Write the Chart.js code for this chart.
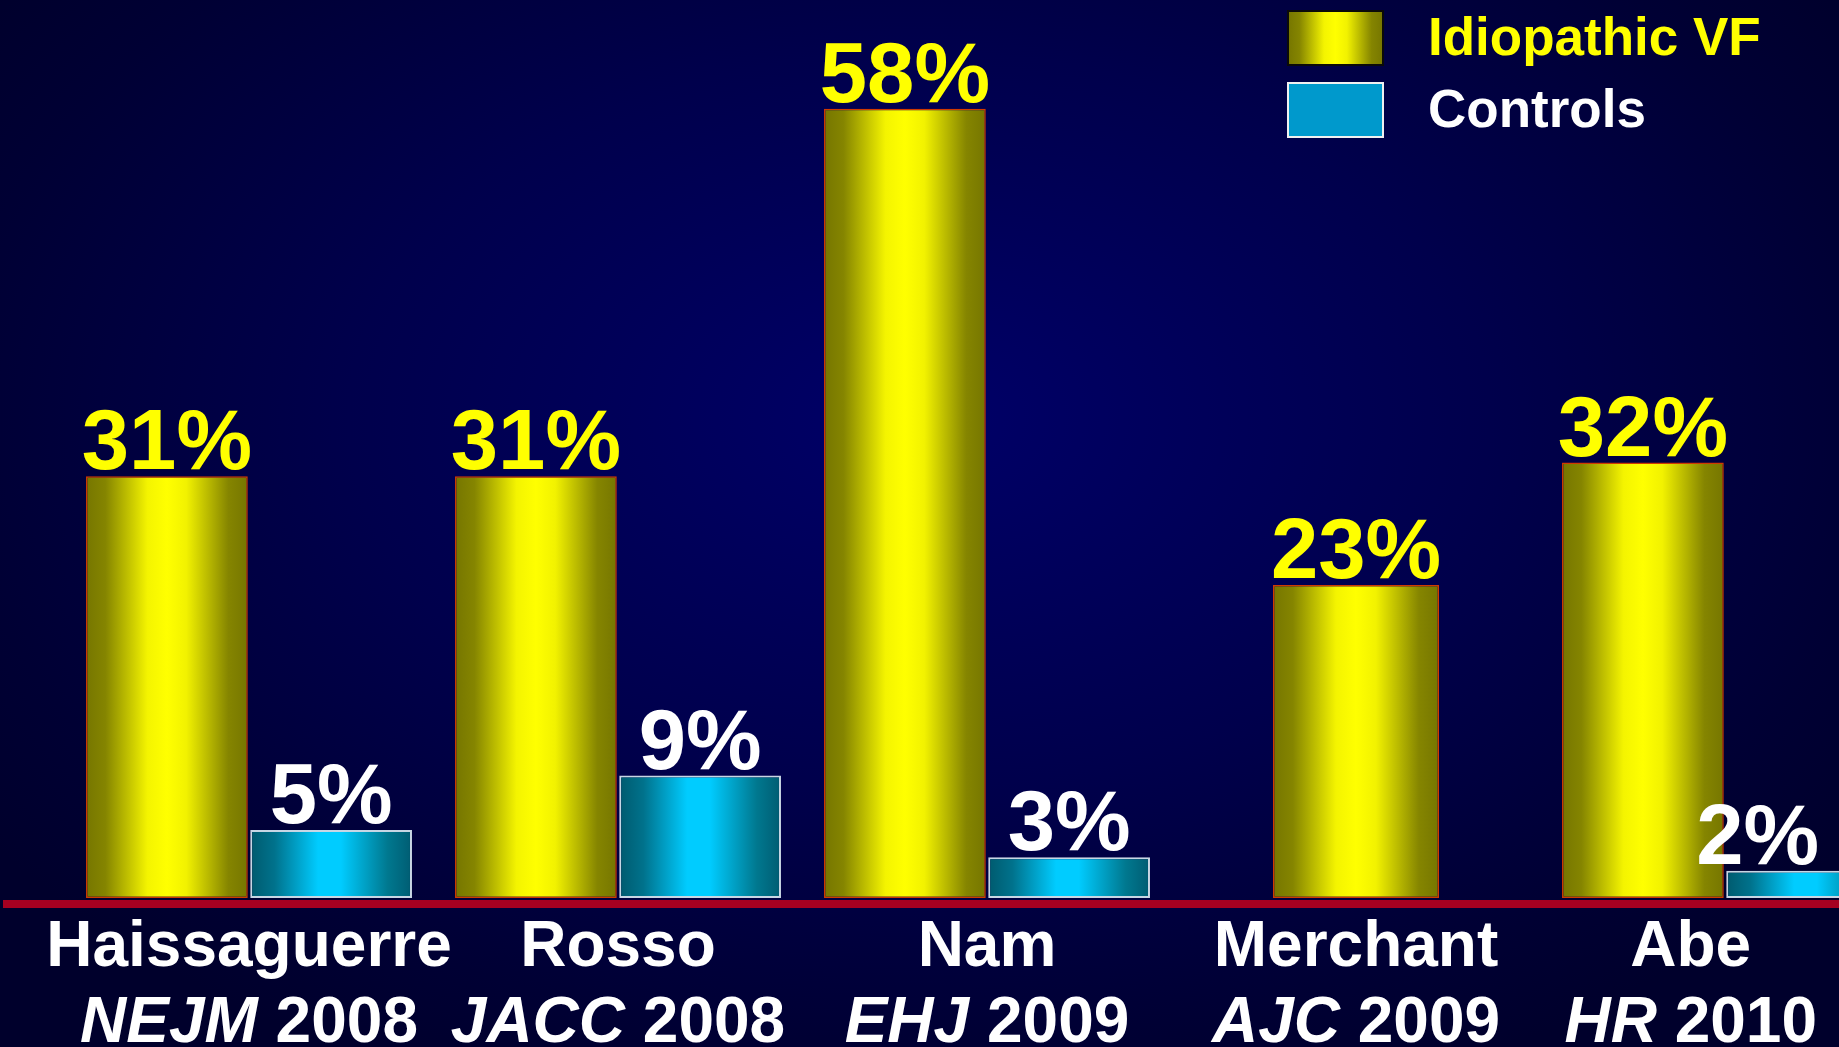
<!DOCTYPE html>
<html>
<head>
<meta charset="utf-8">
<script src="https://cdn.jsdelivr.net/npm/chart.js@4.4.1/dist/chart.umd.min.js"></script>
<style>
  html, body { margin: 0; padding: 0; overflow: hidden; }
  body {
    width: 1839px; height: 1047px;
    background: radial-gradient(ellipse 62% 70% at 50% 40%, #000068 0%, #00004c 50%, #000034 85%, #00002c 100%);
  }
  canvas { display: block; }
</style>
</head>
<body>
<canvas id="vfChart" width="1839" height="1047"></canvas>
<script>
// studies along the x axis
const authors = ['Haissaguerre', 'Rosso', 'Nam', 'Merchant', 'Abe'];
const journals = ['NEJM', 'JACC', 'EHJ', 'AJC', 'HR'];
const years = ['2008', '2008', '2009', '2009', '2010'];

// prevalence of early repolarization (%)
const idiopathicVF = [31, 31, 58, 23, 32];
const controls = [5, 9, 3, null, 2];

const seriesNames = ['Idiopathic VF', 'Controls'];
const valueColors = ['#ffff00', '#ffffff'];

const FONT = "'Liberation Sans', Arial, Helvetica, sans-serif";

// cylinder-like shading across each bar
const vfStops = [[0, '#767600'], [0.12, '#858500'], [0.38, '#f4f400'], [0.5, '#ffff00'], [0.62, '#f2f200'], [0.88, '#858500'], [1, '#767600']];
const ctrlStops = [[0, '#005a6e'], [0.15, '#00728c'], [0.42, '#00ccff'], [0.56, '#00ccff'], [0.85, '#00788f'], [1, '#005c72']];

function horizGradient(ctx, x0, x1, stops) {
  const g = ctx.createLinearGradient(x0, 0, x1, 0);
  stops.forEach(s => g.addColorStop(s[0], s[1]));
  return g;
}

function barFill(c, stops, fallback) {
  const el = c.element;
  if (!el || !isFinite(el.x) || !isFinite(el.width)) return fallback;
  return horizGradient(c.chart.ctx, el.x - el.width / 2, el.x + el.width / 2, stops);
}

// red floor line under the bars
const baseLine = {
  id: 'baseLine',
  afterDatasetsDraw(chart) {
    const ctx = chart.ctx;
    const y0 = chart.scales.y.getPixelForValue(0);
    ctx.save();
    ctx.fillStyle = '#a50021';
    ctx.fillRect(3, y0 + 2, chart.width - 3, 8);
    ctx.restore();
  }
};

// percentage above every bar
const valueLabels = {
  id: 'valueLabels',
  afterDatasetsDraw(chart) {
    const ctx = chart.ctx;
    ctx.save();
    ctx.font = `bold 85px ${FONT}`;
    ctx.textAlign = 'center';
    ctx.textBaseline = 'alphabetic';
    chart.data.datasets.forEach((ds, di) => {
      const meta = chart.getDatasetMeta(di);
      ctx.fillStyle = valueColors[di];
      meta.data.forEach((el, i) => {
        const v = ds.data[i];
        if (v == null) return;
        const txt = v + '%';
        const half = ctx.measureText(txt).width / 2;
        const x = Math.min(el.x, chart.width - 20 - half);
        ctx.fillText(txt, x, el.y - 7);
      });
    });
    ctx.restore();
  }
};

// two-line study labels: author, then italic journal + year
const studyLabels = {
  id: 'studyLabels',
  afterDraw(chart) {
    const ctx = chart.ctx;
    const xs = chart.scales.x;
    const bottom = chart.chartArea.bottom;
    const plain = `bold 64px ${FONT}`;
    const ital = `italic bold 64px ${FONT}`;
    ctx.save();
    ctx.fillStyle = '#ffffff';
    ctx.textBaseline = 'alphabetic';
    authors.forEach((name, i) => {
      ctx.font = plain;
      const wName = ctx.measureText(name).width;
      const wYear = ctx.measureText(' ' + years[i]).width;
      ctx.font = ital;
      const wJour = ctx.measureText(journals[i]).width;
      const w2 = wJour + wYear;
      const half = Math.max(wName, w2) / 2;
      let cx = xs.getPixelForValue(i);
      cx = Math.max(12 + half, Math.min(cx, chart.width - 22 - half));

      ctx.font = plain;
      ctx.textAlign = 'center';
      ctx.fillText(name, cx, bottom + 68);

      ctx.textAlign = 'left';
      let x = cx - w2 / 2;
      ctx.font = ital;
      ctx.fillText(journals[i], x, bottom + 144);
      ctx.font = plain;
      ctx.fillText(' ' + years[i], x + wJour, bottom + 144);
    });
    ctx.restore();
  }
};

// legend in the top right corner
const cornerLegend = {
  id: 'cornerLegend',
  afterDraw(chart) {
    const ctx = chart.ctx;
    const sx = 1288, sw = 95, sh = 54;
    const rows = [11, 83];
    ctx.save();
    // yellow swatch
    ctx.fillStyle = horizGradient(ctx, sx, sx + sw, vfStops);
    ctx.fillRect(sx, rows[0], sw, sh);
    ctx.strokeStyle = '#0a0a0a';
    ctx.lineWidth = 2;
    ctx.strokeRect(sx, rows[0], sw, sh);
    // blue swatch
    ctx.fillStyle = '#0099cc';
    ctx.fillRect(sx, rows[1], sw, sh);
    ctx.strokeStyle = '#f0f0f0';
    ctx.strokeRect(sx, rows[1], sw, sh);

    ctx.font = `bold 53px ${FONT}`;
    ctx.textAlign = 'left';
    ctx.textBaseline = 'alphabetic';
    seriesNames.forEach((name, i) => {
      ctx.fillStyle = valueColors[i];
      ctx.fillText(name, 1428, rows[i] + 44);
    });
    ctx.restore();
  }
};

const chart = new Chart(document.getElementById('vfChart'), {
  type: 'bar',
  data: {
    labels: authors,
    datasets: [
      {
        label: seriesNames[0],
        data: idiopathicVF,
        backgroundColor: c => barFill(c, vfStops, '#e0e000'),
        borderColor: '#d03a00',
        borderWidth: 1.5,
        borderSkipped: false,
        categoryPercentage: 0.89,
        barPercentage: 0.985,
        maxBarThickness: 166,
        skipNull: true,
        clip: false
      },
      {
        label: seriesNames[1],
        data: controls,
        backgroundColor: c => barFill(c, ctrlStops, '#00a8d8'),
        borderColor: '#c8d6e4',
        borderWidth: 2,
        borderSkipped: false,
        categoryPercentage: 0.89,
        barPercentage: 0.985,
        maxBarThickness: 166,
        skipNull: true,
        clip: false
      }
    ]
  },
  options: {
    responsive: false,
    animation: false,
    devicePixelRatio: 1,
    layout: { padding: { left: 249, right: 114, top: 0, bottom: 149 } },
    scales: {
      x: { display: false, offset: false },
      y: { display: false, min: 0, max: 66 }
    },
    plugins: {
      legend: { display: false },
      tooltip: { enabled: false }
    }
  },
  plugins: [baseLine, valueLabels, studyLabels, cornerLegend]
});

// second pass so the bar gradients can use the laid-out bar positions
chart.update('none');
</script>
</body>
</html>
